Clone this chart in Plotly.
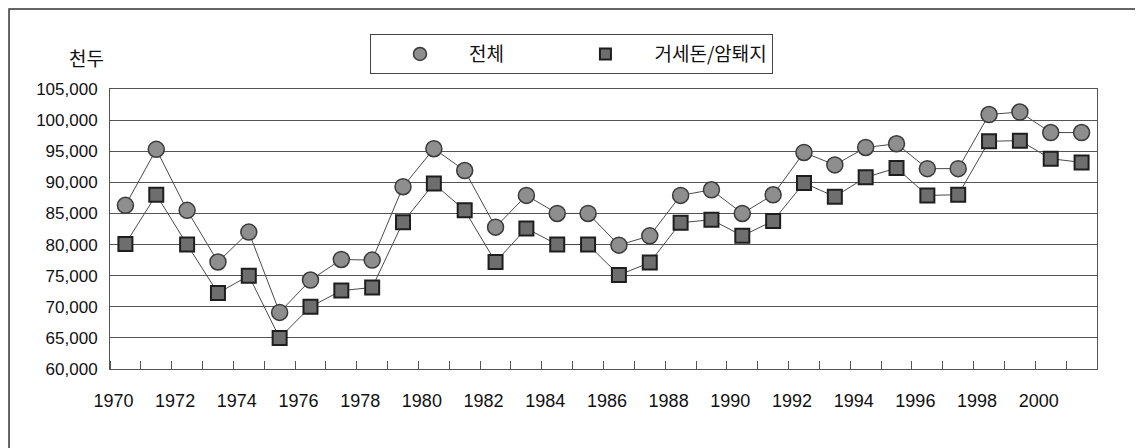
import plotly.graph_objects as go

years = list(range(1970, 2002))
total = [86300, 95300, 85500, 77200, 82000, 69100, 74300, 77600, 77500, 89300,
         95400, 91900, 82800, 87900, 85000, 85000, 79900, 81400, 87900, 88800,
         85000, 88000, 94800, 92800, 95600, 96200, 92200, 92200, 100900, 101300,
         98000, 98000]
castrated = [80100, 88000, 80000, 72200, 75000, 65000, 70000, 72600, 73100, 83600,
             89800, 85500, 77200, 82600, 80000, 80000, 75100, 77100, 83500, 84000,
             81400, 83800, 89900, 87700, 90800, 92300, 87900, 88000, 96600, 96700,
             93800, 93200]
label_years = list(range(1970, 2001, 2))
y_ticks = list(range(60000, 105001, 5000))
unit_label = "천두"
names = ["전체", "거세돈/암퇘지"]

FONT = "Liberation Sans, Arial, sans-serif"
KFONT = "Noto Sans CJK KR, sans-serif"

circle_marker = dict(symbol="circle", size=16, color="#8e8e8e",
                     line=dict(color="#3a3a3a", width=1.5))
square_marker = dict(symbol="square", size=14, color="#6e6e6e",
                     line=dict(color="#1e1e1e", width=2))

fig = go.Figure()
fig.add_trace(go.Scatter(
    x=years, y=total, name=names[0], mode="lines+markers",
    line=dict(color="#4a4a4a", width=1), marker=circle_marker, showlegend=False,
))
fig.add_trace(go.Scatter(
    x=years, y=castrated, name=names[1], mode="lines+markers",
    line=dict(color="#4a4a4a", width=1), marker=square_marker, showlegend=False,
))
# legend entries (markers only, as in the original)
fig.add_trace(go.Scatter(x=[None], y=[None], name=names[0] + "\u3000\u3000\u2002",
                         mode="markers", marker=dict(circle_marker, size=13)))
fig.add_trace(go.Scatter(x=[None], y=[None], name=names[1], mode="markers",
                         marker=dict(square_marker, size=11)))

boundaries = [y - 0.5 for y in years] + [years[-1] + 0.5]

fig.update_xaxes(
    range=[years[0] - 0.5, years[-1] + 0.5],
    tickmode="array", tickvals=label_years, ticktext=[str(v) for v in label_years],
    ticks="", showgrid=False, zeroline=False,
    showline=True, linecolor="#555", linewidth=1, mirror=True,
    tickfont=dict(family=FONT, size=18, color="#111"),
    ticklabelstandoff=15, ticklabelshift=-12,
    minor=dict(tickmode="array", tickvals=boundaries, ticks="inside",
               ticklen=8, tickcolor="#555", tickwidth=1, showgrid=False),
)
fig.update_yaxes(
    range=[60000, 105000], tickmode="array", tickvals=y_ticks,
    ticktext=[f"{v:,}" for v in y_ticks],
    showgrid=True, gridcolor="#555555", gridwidth=1, zeroline=False,
    showline=True, linecolor="#555", linewidth=1, mirror=True,
    tickfont=dict(family=FONT, size=17, color="#111"),
    ticklabelstandoff=8,
)

fig.add_annotation(text=unit_label, xref="paper", yref="paper",
                   x=-0.024, y=1.114, xanchor="center", yanchor="middle",
                   showarrow=False,
                   font=dict(family=KFONT, size=19, color="#111"))

# outer frame (open at the bottom, as in the scan)
fig.add_shape(type="rect", xref="paper", yref="paper",
              x0=-0.1023, x1=1.0446, y0=-0.4, y1=1.2857,
              line=dict(color="#333", width=1.5), fillcolor="rgba(0,0,0,0)")

fig.update_layout(
    width=1135, height=440,
    margin=dict(l=102, r=46, t=81, b=79),
    paper_bgcolor="white", plot_bgcolor="white",
    showlegend=True,
    legend=dict(orientation="h", x=0.2634, y=1.196, xanchor="left", yanchor="top",
                bordercolor="#444", borderwidth=1, bgcolor="white",
                font=dict(family=KFONT, size=19, color="#111"),
                itemwidth=88),
)

fig.write_html("out.html")
